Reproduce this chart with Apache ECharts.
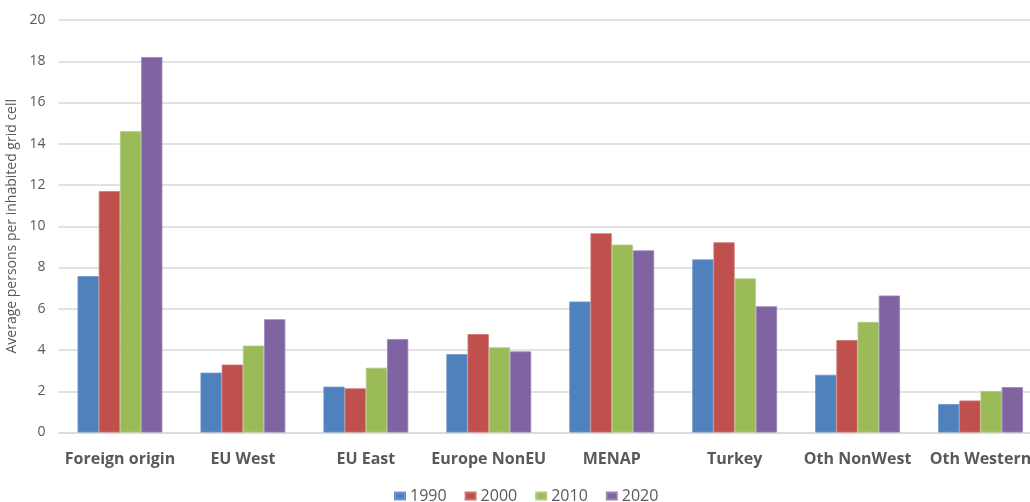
<!DOCTYPE html>
<html>
<head>
<meta charset="utf-8">
<script src="https://cdn.jsdelivr.net/npm/echarts@6/dist/echarts.min.js"></script>
<style>
  html, body { margin: 0; padding: 0; background: #fff; }
  #chart { width: 1030px; height: 502px; }
</style>
</head>
<body>
<div id="chart"></div>
<script>
// Origin groups along the x axis
const categories = ['Foreign origin', 'EU West', 'EU East', 'Europe NonEU', 'MENAP', 'Turkey', 'Oth NonWest', 'Oth Western'];

// Average persons per inhabited grid cell, by census year
const years = ['1990', '2000', '2010', '2020'];
const values1990 = [7.58, 2.90, 2.22, 3.80, 6.35, 8.39, 2.80, 1.38];
const values2000 = [11.70, 3.29, 2.14, 4.77, 9.66, 9.22, 4.48, 1.55];
const values2010 = [14.61, 4.21, 3.14, 4.13, 9.11, 7.47, 5.36, 2.01];
const values2020 = [18.20, 5.49, 4.53, 3.93, 8.83, 6.12, 6.64, 2.20];
const seriesValues = [values1990, values2000, values2010, values2020];

// Y axis ticks
const yMin = 0, yMax = 20, yStep = 2;

const colors = ['#4F81BD', '#C0504D', '#9BBB59', '#8064A2'];
const borders = ['#6F97CB', '#CE7370', '#B0CB7D', '#9A84B6'];
const textColor = '#595959';
const fontFamily = '"Open Sans", "Liberation Sans", sans-serif';

const chart = echarts.init(document.getElementById('chart'), null, { renderer: 'canvas' });

chart.setOption({
  animation: false,
  color: colors,
  // the plot runs a little past the right edge, so the last label is cut
  grid: { left: 58.5, top: 20, width: 983.5, height: 412.5, outerBoundsMode: 'none', containLabel: false },
  legend: {
    data: years,
    top: 483,
    left: 389,
    itemWidth: 10,
    itemHeight: 7,
    itemGap: 18,
    icon: 'rect',
    textStyle: { color: textColor, fontSize: 16, fontFamily: fontFamily }
  },
  xAxis: {
    type: 'category',
    data: categories,
    axisLine: { lineStyle: { color: '#d9d9d9', width: 1.5 } },
    axisTick: { show: false },
    axisLabel: {
      color: textColor, fontSize: 16, fontWeight: 'bold', fontFamily: fontFamily,
      margin: 19, interval: 0
    }
  },
  yAxis: {
    type: 'value',
    min: yMin, max: yMax, interval: yStep,
    name: 'Average persons per inhabited grid cell',
    nameLocation: 'middle',
    nameGap: 33,
    nameTextStyle: { color: textColor, fontSize: 14, fontFamily: fontFamily },
    axisLine: { show: false },
    axisTick: { show: false },
    axisLabel: { color: textColor, fontSize: 14, fontFamily: fontFamily, margin: 13 },
    splitLine: { lineStyle: { color: '#d9d9d9', width: 1.5 } }
  },
  series: years.map((y, i) => ({
    name: y,
    type: 'bar',
    data: seriesValues[i],
    barGap: '0%',
    barCategoryGap: '31%',
    itemStyle: { color: colors[i], borderColor: borders[i], borderWidth: 0.8 }
  }))
});
</script>
</body>
</html>
